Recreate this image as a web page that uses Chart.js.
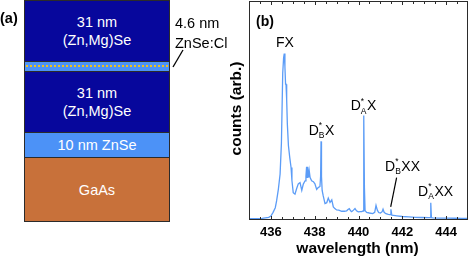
<!DOCTYPE html>
<html>
<head>
<meta charset="utf-8">
<script src="https://cdn.jsdelivr.net/npm/chart.js@4/dist/chart.umd.min.js"></script>
<style>
  html, body { margin: 0; padding: 0; background: #fff; }
  body { width: 469px; height: 259px; position: relative; overflow: hidden; font-family: "Liberation Sans", Arial, sans-serif; }
  #c { position: absolute; left: 0; top: 0; }
  .lay { position: absolute; left: 24px; width: 146px; box-sizing: border-box; border: 1px solid #2b2b2b; color: #fff; text-align: center; font-size: 14.5px; line-height: 18px; display: flex; flex-direction: column; justify-content: center; }
  .dark { background: #07079c; }
  .light { background: #4c92f7; }
  .gaas { background: #c8713a; }
  .dots { position: absolute; left: 1px; right: 1px; top: 3px; border-top: 2px dotted #f0c020; }
  .txt { position: absolute; font-size: 14.5px; color: #000; white-space: nowrap; line-height: 18px; }
  .bold { font-weight: bold; }
</style>
</head>
<body>
<canvas id="c" width="469" height="259"></canvas>

<div class="lay dark" style="top:0px;height:62px;">31 nm<br>(Zn,Mg)Se</div>
<div class="lay light" style="top:61px;height:11px;"><div class="dots"></div></div>
<div class="lay dark" style="top:71px;height:62px;">31 nm<br>(Zn,Mg)Se</div>
<div class="lay light" style="top:132px;height:26px;">10 nm ZnSe</div>
<div class="lay gaas" style="top:157px;height:65px;">GaAs</div>
<div class="txt bold" style="left:0px;top:9px;">(a)</div>
<div class="txt" style="left:175px;top:14px;">4.6 nm</div>
<div class="txt" style="left:175px;top:34px;">ZnSe:Cl</div>
<svg style="position:absolute;left:170px;top:47px;" width="16" height="24"><line x1="13" y1="3" x2="3" y2="20" stroke="#000" stroke-width="1.3"/></svg>

<script>
// ---- data ----
const wavelength = [435.0, 435.3, 435.6, 435.9, 436.0, 436.1, 436.2, 436.26, 436.34, 436.42, 436.48, 436.54, 436.58, 436.61, 436.64, 436.67, 436.69, 436.72, 436.75, 436.8, 436.86, 436.92, 436.96, 437.02, 437.1, 437.18, 437.25, 437.33, 437.41, 437.48, 437.56, 437.6, 437.63, 437.66, 437.68, 437.72, 437.75, 437.79, 437.86, 437.94, 438.01, 438.09, 438.16, 438.24, 438.27, 438.29, 438.31, 438.34, 438.39, 438.47, 438.55, 438.62, 438.7, 438.78, 438.85, 438.92, 439.0, 439.1, 439.23, 439.35, 439.46, 439.52, 439.58, 439.64, 439.69, 439.77, 439.84, 439.91, 439.99, 440.08, 440.15, 440.21, 440.23, 440.25, 440.27, 440.3, 440.37, 440.5, 440.65, 440.74, 440.8, 440.86, 440.92, 441.0, 441.08, 441.12, 441.17, 441.25, 441.36, 441.44, 441.48, 441.52, 441.6, 441.75, 442.0, 442.3, 442.6, 442.9, 443.2, 443.27, 443.3, 443.33, 443.4, 443.7, 444.0, 444.4, 444.7, 445.0];
const counts = [0.6, 0.6, 0.7, 1.2, 1.8, 3.5, 5.6, 8.7, 14, 21, 35, 67, 74, 76, 70, 62, 62, 55, 44, 34, 28.6, 24, 18, 12.5, 11.8, 14.5, 16.5, 17.1, 13.5, 16.4, 17.9, 20, 24.3, 19.5, 24.3, 19.4, 22.5, 19.4, 17.9, 17.5, 16.5, 14, 14.8, 15.3, 20, 35.9, 20, 13.5, 11, 7.5, 7.9, 10, 8, 9.2, 6, 5.2, 4.6, 4.5, 4, 4, 4.2, 4.8, 5.2, 4.2, 3.8, 4.5, 5.2, 4.2, 3.7, 3.8, 3.8, 4.1, 15, 47.7, 15, 4.3, 3.5, 3.2, 2.9, 3.5, 6.7, 4.5, 3.4, 3.2, 3.8, 4.9, 3.5, 2.9, 2.6, 2.5, 4.9, 2.2, 2.1, 1.9, 1.6, 1.4, 1.2, 1.15, 1.1, 1.1, 7.9, 1.05, 1.0, 0.9, 0.85, 0.8, 0.75, 0.7];
const xTickLabels = [436, 438, 440, 442, 444];
const xMinorTicks = [435.5, 436.5, 437, 437.5, 438.5, 439, 439.5, 440.5, 441, 441.5, 442.5, 443, 443.5, 444.5];

// peak labels: main letter, superscript, subscript, suffix, anchor (wavelength, counts)
const peakLabels = [
  { main: 'FX', sup: '', sub: '', suf: '', wl: 436.64, val: 80.7 },
  { main: 'D', sup: '*', sub: 'B', suf: 'X', wl: 438.31, val: 40.8 },
  { main: 'D', sup: '*', sub: 'A', suf: 'X', wl: 440.23, val: 51.8 },
  { main: 'D', sup: '*', sub: 'B', suf: 'XX', wl: 442.01, val: 24.3 },
  { main: 'D', sup: '*', sub: 'A', suf: 'XX', wl: 443.52, val: 12.8 }
];
const leader = { wl1: 441.74, v1: 19.4, wl2: 441.47, v2: 6.0 };

const points = wavelength.map((w, i) => ({ x: w, y: counts[i] }));

const FONT = '"Liberation Sans", Arial, sans-serif';

const decor = {
  id: 'decor',
  afterDraw(chart) {
    const { ctx, chartArea: a, scales: { x, y } } = chart;
    ctx.save();
    // frame
    ctx.strokeStyle = '#2b2b2b';
    ctx.lineWidth = 1;
    ctx.strokeRect(a.left + 0.5, a.top + 0.5, a.right - a.left - 1, a.bottom - a.top - 1);
    // inward ticks top & bottom
    const tick = (v, len) => {
      const px = Math.round(x.getPixelForValue(v)) + 0.5;
      ctx.beginPath();
      ctx.moveTo(px, a.bottom); ctx.lineTo(px, a.bottom - len);
      ctx.moveTo(px, a.top); ctx.lineTo(px, a.top + len);
      ctx.stroke();
    };
    xTickLabels.forEach(v => tick(v, 4));
    xMinorTicks.forEach(v => tick(v, 3));

    // peak labels
    ctx.fillStyle = '#000';
    ctx.textBaseline = 'middle';
    peakLabels.forEach(p => {
      const big = '14px ' + FONT, small = '8.5px ' + FONT;
      ctx.font = big;
      const wMain = ctx.measureText(p.main).width;
      const wSuf = ctx.measureText(p.suf).width;
      ctx.font = small;
      const wSub = Math.max(ctx.measureText(p.sub).width, ctx.measureText(p.sup).width);
      const total = wMain + (p.sub ? wSub + 0.5 : 0) + wSuf;
      const cx = x.getPixelForValue(p.wl), cy = y.getPixelForValue(p.val);
      let xx = cx - total / 2;
      ctx.textAlign = 'left';
      ctx.font = big;
      ctx.fillText(p.main, xx, cy);
      xx += wMain;
      if (p.sub) {
        ctx.font = small;
        ctx.fillText(p.sup, xx, cy - 5);
        ctx.fillText(p.sub, xx, cy + 5);
        xx += wSub + 0.5;
      }
      ctx.font = big;
      ctx.fillText(p.suf, xx, cy);
    });
    // leader line
    ctx.beginPath();
    ctx.lineWidth = 1.2;
    ctx.strokeStyle = '#000';
    ctx.moveTo(x.getPixelForValue(leader.wl1), y.getPixelForValue(leader.v1));
    ctx.lineTo(x.getPixelForValue(leader.wl2), y.getPixelForValue(leader.v2));
    ctx.stroke();

    // panel label
    ctx.font = 'bold 14px ' + FONT;
    ctx.textAlign = 'left';
    ctx.fillText('(b)', a.left + 7, a.top + 21);

    // axis titles
    ctx.font = 'bold 15.5px ' + FONT;
    ctx.textAlign = 'center';
    ctx.fillText('wavelength (nm)', (a.left + a.right) / 2 - 1, 249);
    ctx.translate(237, (a.top + a.bottom) / 2 - 2);
    ctx.rotate(-Math.PI / 2);
    ctx.fillText('counts (arb.)', 0, 0);
    ctx.restore();
  }
};

new Chart(document.getElementById('c'), {
  type: 'line',
  data: {
    datasets: [{
      data: points,
      borderColor: '#5b9cf7',
      borderWidth: 1.3,
      pointRadius: 0,
      tension: 0,
      fill: false
    }]
  },
  options: {
    responsive: false,
    animation: false,
    devicePixelRatio: 1,
    parsing: true,
    layout: { padding: { left: 249, right: 1, top: 1, bottom: 0 } },
    plugins: { legend: { display: false }, tooltip: { enabled: false } },
    scales: {
      x: {
        type: 'linear',
        min: 435, max: 445,
        afterBuildTicks: (s) => { s.ticks = xTickLabels.map(v => ({ value: v })); },
        afterFit: (s) => { s.height = 39; },
        grid: { display: false, drawTicks: false },
        border: { display: false },
        ticks: { color: '#000', font: { family: FONT, size: 13, weight: 'bold' }, padding: 5, maxRotation: 0 }
      },
      y: {
        display: false,
        min: 0, max: 100
      }
    }
  },
  plugins: [decor]
});
</script>
</body>
</html>
